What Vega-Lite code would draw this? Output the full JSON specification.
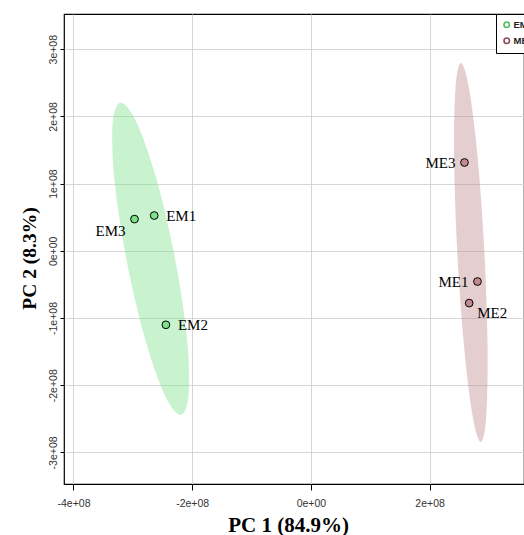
{
  "$schema": "https://vega.github.io/schema/vega-lite/v6.json",
  "autosize": {"type": "none"},
  "padding": {"left": 64, "top": 14, "right": 0, "bottom": 51},
  "width": 460,
  "height": 470,
  "background": "white",
  "config": {
    "view": {"stroke": "black", "strokeWidth": 1.2},
    "axis": {
      "domain": false,
      "grid": true,
      "gridColor": "#d6d6d6",
      "gridWidth": 1,
      "tickColor": "black",
      "tickSize": 5,
      "tickWidth": 1,
      "labelFont": "Liberation Sans",
      "labelFontSize": 10.5,
      "labelColor": "#333333",
      "titleFont": "Liberation Serif",
      "titleFontWeight": "bold",
      "titleColor": "black"
    }
  },
  "datasets": {
    "samples": [
      {"sample": "EM1", "group": "EM", "PC1": -264000000, "PC2": 52500000},
      {"sample": "EM2", "group": "EM", "PC1": -244300000, "PC2": -110100000},
      {"sample": "EM3", "group": "EM", "PC1": -297200000, "PC2": 47200000},
      {"sample": "ME1", "group": "ME", "PC1": 280700000, "PC2": -45700000},
      {"sample": "ME2", "group": "ME", "PC1": 266700000, "PC2": -77800000},
      {"sample": "ME3", "group": "ME", "PC1": 258800000, "PC2": 131400000}
    ],
    "ellipses": [
      {"group": "EM", "i": 0, "PC1": -218500000, "PC2": -244000000},
      {"group": "EM", "i": 1, "PC1": -205600000, "PC2": -209500000},
      {"group": "EM", "i": 2, "PC1": -209800000, "PC2": -122000000},
      {"group": "EM", "i": 3, "PC1": -230300000, "PC2": -5100000},
      {"group": "EM", "i": 4, "PC1": -261300000, "PC2": 110100000},
      {"group": "EM", "i": 5, "PC1": -294500000, "PC2": 192600000},
      {"group": "EM", "i": 6, "PC1": -321300000, "PC2": 220200000},
      {"group": "EM", "i": 7, "PC1": -334300000, "PC2": 185700000},
      {"group": "EM", "i": 8, "PC1": -330100000, "PC2": 98200000},
      {"group": "EM", "i": 9, "PC1": -309500000, "PC2": -18800000},
      {"group": "EM", "i": 10, "PC1": -278500000, "PC2": -133900000},
      {"group": "EM", "i": 11, "PC1": -245300000, "PC2": -216400000},
      {"group": "ME", "i": 0, "PC1": 286400000, "PC2": -284200000},
      {"group": "ME", "i": 1, "PC1": 295500000, "PC2": -246000000},
      {"group": "ME", "i": 2, "PC1": 297700000, "PC2": -142600000},
      {"group": "ME", "i": 3, "PC1": 292300000, "PC2": -1500000},
      {"group": "ME", "i": 4, "PC1": 280900000, "PC2": 139300000},
      {"group": "ME", "i": 5, "PC1": 266400000, "PC2": 242100000},
      {"group": "ME", "i": 6, "PC1": 252700000, "PC2": 279300000},
      {"group": "ME", "i": 7, "PC1": 243600000, "PC2": 240900000},
      {"group": "ME", "i": 8, "PC1": 241400000, "PC2": 137500000},
      {"group": "ME", "i": 9, "PC1": 246800000, "PC2": -3600000},
      {"group": "ME", "i": 10, "PC1": 258300000, "PC2": -144300000},
      {"group": "ME", "i": 11, "PC1": 272800000, "PC2": -247200000}
    ]
  },
  "layer": [
    {
      "data": {"name": "ellipses"},
      "mark": {"type": "line", "interpolate": "cardinal-closed", "filled": true, "opacity": 0.42, "strokeWidth": 0},
      "encoding": {
        "x": {
          "field": "PC1", "type": "quantitative",
          "scale": {"domain": [-416000000, 359100000], "nice": false, "zero": false},
          "axis": {
            "values": [-400000000, -200000000, 0, 200000000],
            "title": "PC 1 (84.9%)",
            "labelExpr": "datum.value == 0 ? '0e+00' : (datum.value < 0 ? '-' : '') + format(abs(datum.value) / 1e8, 'd') + 'e+08'",
            "labelPadding": 8,
            "tickSize": 6,
            "titleFontSize": 21,
            "titleX": 224,
            "titleY": 47,
            "titleAlign": "center",
            "titleBaseline": "alphabetic"
          }
        },
        "y": {
          "field": "PC2", "type": "quantitative",
          "scale": {"domain": [-347000000, 352400000], "nice": false, "zero": false},
          "axis": {
            "values": [-300000000, -200000000, -100000000, 0, 100000000, 200000000, 300000000],
            "title": "PC 2 (8.3%)",
            "labelExpr": "datum.value == 0 ? '0e+00' : (datum.value < 0 ? '-' : '') + format(abs(datum.value) / 1e8, 'd') + 'e+08'",
            "labelAngle": 270,
            "labelAlign": "center",
            "labelBaseline": "alphabetic",
            "labelPadding": 4,
            "tickSize": 4,
            "titleFontSize": 19.5,
            "titleAngle": 270,
            "titleX": -29,
            "titleY": 244,
            "titleAlign": "center",
            "titleBaseline": "alphabetic"
          }
        },
        "color": {
          "field": "group", "type": "nominal",
          "scale": {"domain": ["EM", "ME"], "range": ["#7fe08a", "#c08a8f"]},
          "legend": {
            "orient": "none",
            "legendX": 432,
            "legendY": 0,
            "title": null,
            "strokeColor": "black",
            "fillColor": "white",
            "padding": 6,
            "rowPadding": 3,
            "labelFont": "Liberation Sans",
            "labelFontSize": 9.5,
            "labelFontWeight": "bold",
            "labelColor": "#222222",
            "labelOffset": 2,
            "symbolType": "circle",
            "symbolSize": 30,
            "symbolStrokeWidth": 1.6,
            "symbolOpacity": 1,
            "encode": {
              "symbols": {
                "update": {
                  "fill": {"value": "white"},
                  "fillOpacity": {"value": 0},
                  "stroke": {"signal": "datum.value == 'EM' ? '#4cc05a' : '#8c4a52'"},
                  "strokeWidth": {"value": 1.6},
                  "opacity": {"value": 1}
                }
              }
            }
          }
        },
        "detail": {"field": "group"},
        "order": {"field": "i", "type": "quantitative"}
      }
    },
    {
      "data": {"name": "samples"},
      "mark": {"type": "point", "filled": true, "stroke": "black", "strokeWidth": 1, "size": 60, "opacity": 1},
      "encoding": {
        "x": {"field": "PC1", "type": "quantitative"},
        "y": {"field": "PC2", "type": "quantitative"},
        "color": {"field": "group", "type": "nominal"}
      }
    },
    {
      "data": {"name": "samples"},
      "transform": [{"filter": "datum.sample == 'EM1' || datum.sample == 'EM2'"}],
      "mark": {"type": "text", "font": "Liberation Serif", "fontSize": 15, "align": "left", "baseline": "middle", "dx": 12, "dy": 0, "color": "black"},
      "encoding": {
        "x": {"field": "PC1", "type": "quantitative"},
        "y": {"field": "PC2", "type": "quantitative"},
        "text": {"field": "sample"}
      }
    },
    {
      "data": {"name": "samples"},
      "transform": [{"filter": "datum.sample == 'ME2'"}],
      "mark": {"type": "text", "font": "Liberation Serif", "fontSize": 15, "align": "left", "baseline": "middle", "dx": 8, "dy": 10, "color": "black"},
      "encoding": {
        "x": {"field": "PC1", "type": "quantitative"},
        "y": {"field": "PC2", "type": "quantitative"},
        "text": {"field": "sample"}
      }
    },
    {
      "data": {"name": "samples"},
      "transform": [{"filter": "datum.sample == 'ME1' || datum.sample == 'ME3'"}],
      "mark": {"type": "text", "font": "Liberation Serif", "fontSize": 15, "align": "right", "baseline": "middle", "dx": -9, "dy": 0, "color": "black"},
      "encoding": {
        "x": {"field": "PC1", "type": "quantitative"},
        "y": {"field": "PC2", "type": "quantitative"},
        "text": {"field": "sample"}
      }
    },
    {
      "data": {"name": "samples"},
      "transform": [{"filter": "datum.sample == 'EM3'"}],
      "mark": {"type": "text", "font": "Liberation Serif", "fontSize": 15, "align": "right", "baseline": "middle", "dx": -9, "dy": 12, "color": "black"},
      "encoding": {
        "x": {"field": "PC1", "type": "quantitative"},
        "y": {"field": "PC2", "type": "quantitative"},
        "text": {"field": "sample"}
      }
    }
  ]
}
